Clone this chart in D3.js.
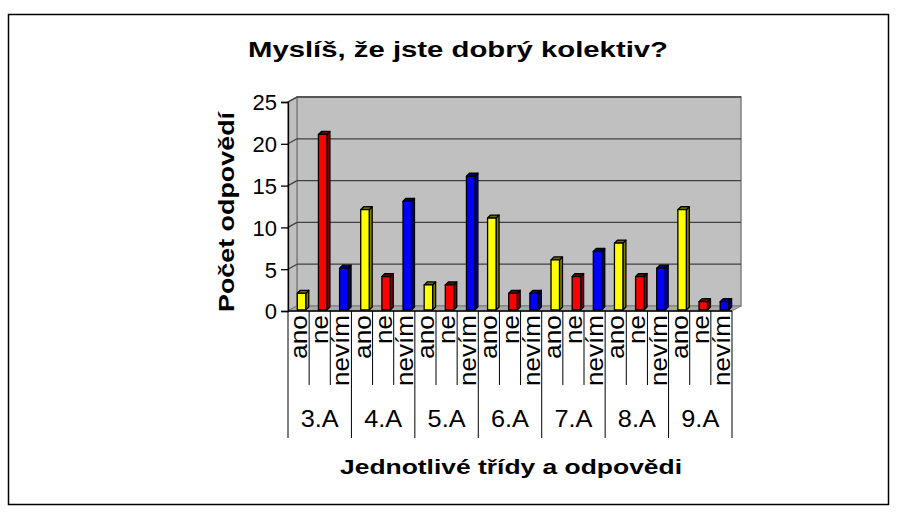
<!DOCTYPE html>
<html>
<head>
<meta charset="utf-8">
<script src="https://cdn.jsdelivr.net/npm/d3@7"></script>
<style>
  html, body { margin: 0; padding: 0; background: #fff; }
  text { font-family: Arial, "Liberation Sans", sans-serif; fill: #000; }
</style>
</head>
<body>
<svg id="chart" width="897" height="512"></svg>
<script>
// ---- data ----
const categories = ["3.A", "4.A", "5.A", "6.A", "7.A", "8.A", "9.A"];
const answers = ["ano", "ne", "nevím"];
const ano   = [2, 12, 3, 11, 6, 8, 12];
const ne    = [21, 4, 3, 2, 4, 4, 1];
const nevim = [5, 13, 16, 2, 7, 5, 1];
const yTicks = [0, 5, 10, 15, 20, 25];
const title = "Myslíš, že jste dobrý kolektiv?";
const xTitle = "Jednotlivé třídy a odpovědi";
const yTitle = "Počet odpovědí";

const seriesValues = { "ano": ano, "ne": ne, "nevím": nevim };
const colors = { "ano": "#FFFF00", "ne": "#FF0000", "nevím": "#0000FF" };
const sideColors = { "ano": "#808000", "ne": "#800000", "nevím": "#000080" };
const topColors = { "ano": "#666600", "ne": "#660000", "nevím": "#000066" };
const subLabelLen = { "ano": 44, "ne": 29, "nevím": 71 };

const svg = d3.select("#chart");

// scales
const x = d3.scaleBand().domain(categories).range([288, 732]).padding(0);
const sub = d3.scaleBand().domain(answers).range([0, x.bandwidth()]).padding(0);
const y = d3.scaleLinear().domain([0, 25]).range([311, 102]);

const DX = 9, DY = 5; // wall depth
const xL = 288, xR = 732;

// chart border
svg.append("rect").attr("x", 8.5).attr("y", 14.5).attr("width", 880).attr("height", 490)
  .attr("fill", "none").attr("stroke", "#000").attr("stroke-width", 1.5);

// back wall
svg.append("rect")
  .attr("x", xL + DX).attr("y", y(25) - DY)
  .attr("width", xR - xL).attr("height", y(0) - y(25))
  .attr("fill", "#C0C0C0").attr("stroke", "#808080").attr("stroke-width", 1.5);
// left wall
svg.append("polygon")
  .attr("points", [[xL, y(25)], [xL + DX, y(25) - DY], [xL + DX, y(0) - DY], [xL, y(0)]].map(p => p.join(",")).join(" "))
  .attr("fill", "#C0C0C0").attr("stroke", "#808080").attr("stroke-width", 1.5);
// floor
svg.append("polygon")
  .attr("points", [[xL, y(0)], [xL + DX, y(0) - DY], [xR + DX, y(0) - DY], [xR, y(0)]].map(p => p.join(",")).join(" "))
  .attr("fill", "#A8A8A8").attr("stroke", "#808080").attr("stroke-width", 1);

// gridlines
const grid = svg.append("g");
yTicks.filter(t => t > 0).forEach(t => {
  grid.append("line").attr("x1", xL + DX).attr("x2", xR + DX)
    .attr("y1", y(t) - DY).attr("y2", y(t) - DY)
    .attr("stroke", "#404040").attr("stroke-width", 1.3);
  grid.append("line").attr("x1", xL).attr("x2", xL + DX)
    .attr("y1", y(t)).attr("y2", y(t) - DY)
    .attr("stroke", "#404040").attr("stroke-width", 1.3);
});

// bars
const bars = [];
categories.forEach((c, i) => {
  answers.forEach(a => bars.push({ cat: c, ans: a, v: seriesValues[a][i] }));
});
const bd = 3;
const barG = svg.append("g");
bars.forEach(d => {
  const w = sub.bandwidth();
  const x0 = x(d.cat) + sub(d.ans) + 0.44 * w;
  const bw = 0.40 * w;
  const yt = y(d.v) - 1, yb = y(0) - 1;
  const g = barG.append("g").attr("stroke", "#000").attr("stroke-width", 1.3).attr("stroke-linejoin", "round");
  g.append("polygon")
    .attr("points", [[x0 + bw, yt], [x0 + bw + bd, yt - bd], [x0 + bw + bd, yb - bd], [x0 + bw, yb]].map(p => p.join(",")).join(" "))
    .attr("fill", sideColors[d.ans]);
  g.append("polygon")
    .attr("points", [[x0, yt], [x0 + bd, yt - bd], [x0 + bw + bd, yt - bd], [x0 + bw, yt]].map(p => p.join(",")).join(" "))
    .attr("fill", topColors[d.ans]);
  g.append("rect").attr("x", x0).attr("y", yt).attr("width", bw).attr("height", yb - yt)
    .attr("fill", colors[d.ans]);
});

// y axis
const yAxis = d3.axisLeft(y).tickValues(yTicks).tickSize(7).tickPadding(4);
const yg = svg.append("g").attr("transform", `translate(${xL},0)`).call(yAxis);
yg.select(".domain").attr("stroke", "#000").attr("stroke-width", 1.3);
yg.selectAll(".tick line").attr("stroke", "#000").attr("stroke-width", 1.3);
yg.selectAll(".tick text")
  .style("font-family", "Arial, 'Liberation Sans', sans-serif")
  .style("font-size", "22px").attr("fill", "#000").attr("dy", "0.36em");

// category axis line
svg.append("line").attr("x1", xL).attr("x2", xR).attr("y1", y(0)).attr("y2", y(0))
  .attr("stroke", "#000").attr("stroke-width", 1.3);

// dividers
const divG = svg.append("g").attr("stroke", "#000").attr("stroke-width", 1);
categories.forEach(c => {
  answers.forEach((a, j) => {
    if (j > 0) {
      const xx = x(c) + sub(a);
      divG.append("line").attr("x1", xx).attr("x2", xx).attr("y1", y(0)).attr("y2", 385);
    }
  });
  divG.append("line").attr("x1", x(c)).attr("x2", x(c)).attr("y1", y(0)).attr("y2", 438);
});
divG.append("line").attr("x1", xR).attr("x2", xR).attr("y1", y(0)).attr("y2", 438);

// sub labels
const subG = svg.append("g");
categories.forEach(c => {
  answers.forEach(a => {
    const cx = x(c) + sub(a) + sub.bandwidth() / 2;
    subG.append("text")
      .attr("transform", `translate(${cx + 8.5},315) rotate(-90)`)
      .attr("text-anchor", "end")
      .attr("textLength", subLabelLen[a]).attr("lengthAdjust", "spacingAndGlyphs")
      .style("font-size", "23px")
      .text(a);
  });
});

// group labels
svg.append("g").selectAll("text").data(categories).join("text")
  .attr("x", d => x(d) + x.bandwidth() / 2)
  .attr("y", 427)
  .attr("text-anchor", "middle")
  .attr("textLength", 38).attr("lengthAdjust", "spacingAndGlyphs")
  .style("font-size", "24px")
  .text(d => d);

// titles
svg.append("text").attr("x", 458).attr("y", 57).attr("text-anchor", "middle")
  .attr("textLength", 420).attr("lengthAdjust", "spacingAndGlyphs")
  .style("font-size", "22px").style("font-weight", "bold")
  .text(title);
svg.append("text").attr("x", 511).attr("y", 474).attr("text-anchor", "middle")
  .attr("textLength", 342).attr("lengthAdjust", "spacingAndGlyphs")
  .style("font-size", "20px").style("font-weight", "bold")
  .text(xTitle);
svg.append("text").attr("transform", "translate(234,212) rotate(-90)").attr("text-anchor", "middle")
  .attr("textLength", 200).attr("lengthAdjust", "spacingAndGlyphs")
  .style("font-size", "22px").style("font-weight", "bold")
  .text(yTitle);
</script>
</body>
</html>
